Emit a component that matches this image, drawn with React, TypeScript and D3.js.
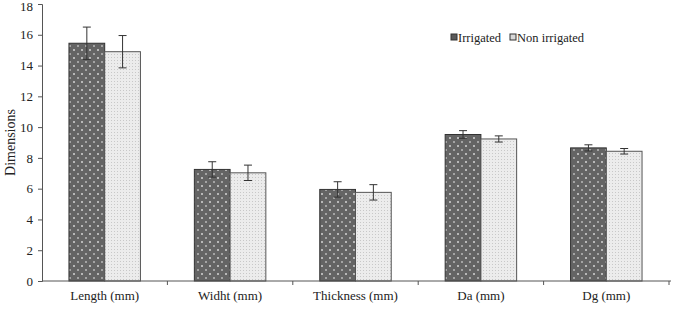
import { useEffect, useRef } from "react";
import * as d3 from "d3";

const categories = ["Length (mm)", "Widht (mm)", "Thickness (mm)", "Da (mm)", "Dg (mm)"];
const seriesNames = ["Irrigated", "Non irrigated"];
const irrigated = [15.45, 7.25, 5.95, 9.52, 8.65];
const irrigatedErr = [1.05, 0.5, 0.5, 0.25, 0.2];
const nonIrrigated = [14.9, 7.03, 5.76, 9.23, 8.43];
const nonIrrigatedErr = [1.05, 0.5, 0.5, 0.2, 0.18];
const yTicks = [0, 2, 4, 6, 8, 10, 12, 14, 16, 18];

const width = 684;
const height = 312;
const margin = { top: 4, right: 15, bottom: 31, left: 42 };
const font = "'Liberation Serif', 'Times New Roman', serif";

export default function App() {
  const svgRef = useRef<SVGSVGElement>(null);

  useEffect(() => {
    if (!svgRef.current) return;
    const svg = d3.select(svgRef.current);
    svg.selectAll("*").remove();

    const x = d3
      .scaleBand<string>()
      .domain(categories)
      .range([margin.left, width - margin.right])
      .paddingInner(0.43)
      .paddingOuter(0.215);
    const x1 = d3.scaleBand<string>().domain(seriesNames).range([0, x.bandwidth()]);
    const y = d3.scaleLinear().domain([0, 18]).range([height - margin.bottom, margin.top]);

    // fill patterns
    const defs = svg.append("defs");
    const dark = defs
      .append("pattern")
      .attr("id", "pat-irr")
      .attr("patternUnits", "userSpaceOnUse")
      .attr("width", 8)
      .attr("height", 8);
    dark.append("rect").attr("width", 8).attr("height", 8).attr("fill", "#646464");
    dark.append("rect").attr("x", 1).attr("y", 1).attr("width", 2).attr("height", 2).attr("fill", "#b8b8b8");
    dark.append("rect").attr("x", 5).attr("y", 5).attr("width", 2).attr("height", 2).attr("fill", "#a4a4a4");

    const light = defs
      .append("pattern")
      .attr("id", "pat-non")
      .attr("patternUnits", "userSpaceOnUse")
      .attr("width", 3)
      .attr("height", 3);
    light.append("rect").attr("width", 3).attr("height", 3).attr("fill", "#ececec");
    light.append("rect").attr("x", 0).attr("y", 0).attr("width", 1).attr("height", 1).attr("fill", "#c8c8c8");

    const fills = ["url(#pat-irr)", "url(#pat-non)"];
    const values = [irrigated, nonIrrigated];
    const errs = [irrigatedErr, nonIrrigatedErr];

    // bars
    seriesNames.forEach((s, si) => {
      svg
        .append("g")
        .selectAll("rect")
        .data(categories)
        .join("rect")
        .attr("x", (c) => x(c)! + x1(s)!)
        .attr("y", (_, i) => y(values[si][i]))
        .attr("width", x1.bandwidth())
        .attr("height", (_, i) => y(0) - y(values[si][i]))
        .attr("fill", fills[si])
        .attr("stroke", si === 0 ? "#333" : "#555")
        .attr("stroke-width", 1);
    });

    // error bars
    seriesNames.forEach((s, si) => {
      const g = svg.append("g").attr("stroke", "#333").attr("stroke-width", 1);
      categories.forEach((c, i) => {
        const cx = x(c)! + x1(s)! + x1.bandwidth() / 2;
        const top = y(values[si][i] + errs[si][i]);
        const bot = y(values[si][i] - errs[si][i]);
        g.append("line").attr("x1", cx).attr("x2", cx).attr("y1", top).attr("y2", bot);
        g.append("line").attr("x1", cx - 4).attr("x2", cx + 4).attr("y1", top).attr("y2", top);
        g.append("line").attr("x1", cx - 4).attr("x2", cx + 4).attr("y1", bot).attr("y2", bot);
      });
    });

    // y axis
    const yAxis = svg
      .append("g")
      .attr("transform", `translate(${margin.left},0)`)
      .call(d3.axisLeft(y).tickValues(yTicks).tickSize(4).tickPadding(5));
    yAxis.select(".domain").attr("stroke", "#555");
    yAxis.selectAll(".tick line").attr("stroke", "#555");
    yAxis
      .selectAll("text")
      .attr("font-family", font)
      .attr("font-size", 13)
      .attr("fill", "#222");
    // keep the top label inside the frame
    yAxis
      .selectAll<SVGTextElement, number>("text")
      .filter((d) => d === 18)
      .attr("dy", "0.52em");

    // x axis
    const x0 = margin.left;
    const xEnd = width - margin.right;
    const gx = svg.append("g").attr("stroke", "#555");
    gx.append("line").attr("x1", x0).attr("x2", xEnd + 2).attr("y1", y(0)).attr("y2", y(0));
    const step = x.step();
    categories.forEach((c) => {
      const bx = x(c)! + x.bandwidth() + (step - x.bandwidth()) / 2;
      gx.append("line").attr("x1", bx).attr("x2", bx).attr("y1", y(0)).attr("y2", y(0) + 4);
    });
    svg
      .append("g")
      .selectAll("text")
      .data(categories)
      .join("text")
      .attr("x", (c) => x(c)! + x.bandwidth() / 2)
      .attr("y", height - 12)
      .attr("text-anchor", "middle")
      .attr("font-family", font)
      .attr("font-size", 13)
      .attr("fill", "#222")
      .text((c) => c);

    // y axis title
    svg
      .append("text")
      .attr("transform", `translate(15,${(y(0) + y(18)) / 2}) rotate(-90)`)
      .attr("text-anchor", "middle")
      .attr("font-family", font)
      .attr("font-size", 14)
      .attr("fill", "#222")
      .text("Dimensions");

    // legend
    const legend = svg.append("g").attr("font-family", font).attr("font-size", 12.5).attr("fill", "#222");
    const legendX = [451, 510];
    seriesNames.forEach((s, si) => {
      legend
        .append("rect")
        .attr("x", legendX[si])
        .attr("y", 34)
        .attr("width", 6)
        .attr("height", 6)
        .attr("fill", si === 0 ? "#5a5a5a" : "#d8d8d8")
        .attr("stroke", "#333");
      legend
        .append("text")
        .attr("x", legendX[si] + 7)
        .attr("y", 41.5)
        .text(s);
    });
  }, []);

  return (
    <svg
      ref={svgRef}
      width={width}
      height={height}
      style={{ position: "absolute", left: 0, top: 0, background: "#fff" }}
    />
  );
}
